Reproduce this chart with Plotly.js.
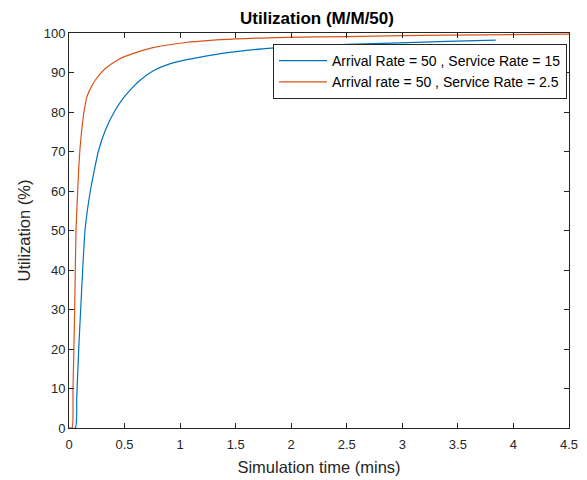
<!DOCTYPE html>
<html>
<head>
<meta charset="utf-8">
<script src="https://cdn.plot.ly/plotly-3.0.1.min.js"></script>
<style>html,body{margin:0;padding:0;background:#fff;}#chart{width:587px;height:480px;}</style>
</head>
<body>
<div id="chart"></div>
<script>
// Series 1: Arrival Rate = 50, Service Rate = 15
var timeA = [0, 0.057, 0.07, 0.087, 0.105, 0.123, 0.144, 0.165, 0.192, 0.228, 0.264, 0.327, 0.417, 0.489, 0.552, 0.642, 0.755, 0.905, 1.05, 1.205, 1.35, 1.505, 1.74, 2.0, 2.23, 2.5, 2.98, 3.4, 3.84];
var utilA = [0, 0, 8, 19.7, 30, 40, 50, 55, 60, 65.3, 70, 75.4, 80.5, 83.5, 85.6, 88.1, 90.4, 92.2, 93.2, 94.0, 94.7, 95.3, 96.0, 96.5, 96.8, 97.1, 97.5, 97.9, 98.2];
// Series 2: Arrival rate = 50, Service Rate = 2.5
var timeB = [0, 0.027, 0.036, 0.051, 0.063, 0.075, 0.087, 0.1, 0.132, 0.162, 0.2, 0.237, 0.327, 0.458, 0.537, 0.608, 0.755, 1.055, 1.505, 1.955, 2.5, 3.0, 3.75, 4.5];
var utilB = [0, 0, 9.6, 30, 50, 58, 65.3, 71, 79.5, 83.9, 86.3, 88.1, 91.0, 93.5, 94.4, 95.1, 96.3, 97.6, 98.5, 98.9, 99.1, 99.35, 99.55, 99.7];
var seriesNames = ["Arrival Rate = 50 , Service Rate = 15", "Arrival rate = 50 , Service Rate = 2.5"];
var xTicks = [0, 0.5, 1, 1.5, 2, 2.5, 3, 3.5, 4, 4.5];
var xTickText = ["0", "0.5", "1", "1.5", "2", "2.5", "3", "3.5", "4", "4.5"];
var yTicks = [0, 10, 20, 30, 40, 50, 60, 70, 80, 90, 100];

var font = "'Liberation Sans', Arial, Helvetica, sans-serif";
var axisColor = "#262626";

var traces = [
  {x: timeA, y: utilA, name: seriesNames[0], mode: "lines", line: {color: "#0072BD", width: 1.2, shape: "spline", smoothing: 0.6}},
  {x: timeB, y: utilB, name: seriesNames[1], mode: "lines", line: {color: "#D95319", width: 1.2, shape: "spline", smoothing: 0.6}}
];

var axisCommon = {
  showline: true, linecolor: axisColor, linewidth: 1, mirror: "ticks",
  ticks: "inside", ticklen: 5, tickcolor: axisColor, tickwidth: 1,
  showgrid: false, zeroline: false,
  tickfont: {family: font, size: 13, color: axisColor}
};

var layout = {
  width: 587, height: 480,
  margin: {l: 69, r: 18, t: 33, b: 52},
  paper_bgcolor: "#fff", plot_bgcolor: "#fff",
  showlegend: true,
  title: {text: "<b>Utilization (M/M/50)</b>", font: {family: font, size: 17, color: "#000"}, x: 0.54, xanchor: "center", y: 0.9625, yanchor: "middle"},
  xaxis: Object.assign({}, axisCommon, {
    range: [0, 4.5], tickvals: xTicks, ticktext: xTickText, ticklabelstandoff: 4,
    title: {text: "Simulation time (mins)", font: {family: font, size: 16.5, color: axisColor}, standoff: 10}
  }),
  yaxis: Object.assign({}, axisCommon, {
    range: [0, 100], tickvals: yTicks,
    title: {text: "Utilization (%)", font: {family: font, size: 16.5, color: axisColor}, standoff: 8}
  }),
  legend: {
    x: 0.996, y: 0.972, xanchor: "right", yanchor: "top",
    bgcolor: "#fff", bordercolor: axisColor, borderwidth: 1,
    font: {family: font, size: 14, color: "#000"},
    tracegroupgap: 0, itemwidth: 48
  }
};

Plotly.newPlot("chart", traces, layout, {displayModeBar: false, staticPlot: true});
</script>
</body>
</html>
